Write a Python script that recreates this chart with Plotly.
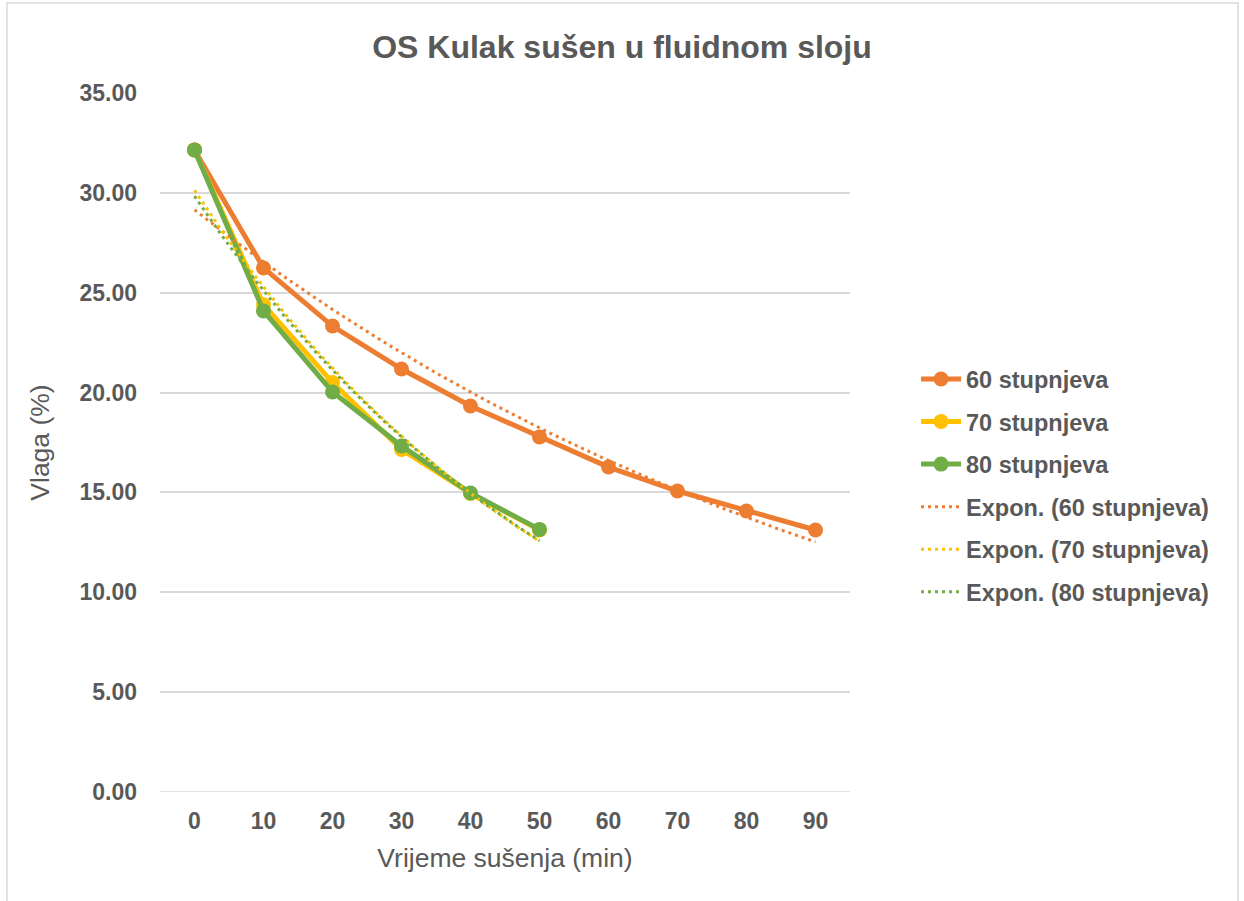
import numpy as np
import plotly.graph_objects as go

# ---- data ----
time_min = [0, 10, 20, 30, 40, 50, 60, 70, 80, 90]
moisture_60 = [32.15, 26.24, 23.33, 21.18, 19.33, 17.78, 16.27, 15.07, 14.07, 13.12]
moisture_70 = [32.15, 24.40, 20.50, 17.15, 14.95, 13.12]
moisture_80 = [32.15, 24.09, 20.03, 17.33, 14.97, 13.15]
series_names = ["60 stupnjeva", "70 stupnjeva", "80 stupnjeva"]
colors = ["#ED7D31", "#FFC000", "#70AD47"]
y_ticks = [0, 5, 10, 15, 20, 25, 30, 35]

series = [moisture_60, moisture_70, moisture_80]

fig = go.Figure()

for i, (name, vals, col) in enumerate(zip(series_names, series, colors)):
    fig.add_trace(go.Scatter(
        x=time_min[:len(vals)], y=vals, name=f"<b>{name}</b>", mode="lines+markers",
        line=dict(color=col, width=5),
        marker=dict(color=col, size=15),
        legendgroup=f"g{i}", legendrank=i + 1,
    ))

# exponential trendlines (least-squares fit of ln(y), like Excel)
for i, (name, vals, col) in enumerate(zip(series_names, series, colors)):
    xs = np.array(time_min[:len(vals)], dtype=float)
    b, a = np.polyfit(xs, np.log(vals), 1)
    xd = np.linspace(xs[0], xs[-1], 120)
    fig.add_trace(go.Scatter(
        x=xd, y=np.exp(a + b * xd), name=f"<b>Expon. ({name})</b>", mode="lines",
        line=dict(color=col, width=3, dash="3px,4px"),
        legendgroup=f"t{i}", legendrank=4 + i, hoverinfo="skip",
    ))

fig.update_layout(
    width=1244, height=901,
    paper_bgcolor="white", plot_bgcolor="white",
    margin=dict(l=160, r=394, t=93, b=109),
    font=dict(family="Liberation Sans, Arial, sans-serif", color="#595959"),
    title=dict(text="<b>OS Kulak sušen u fluidnom sloju</b>", x=0.5, xanchor="center",
               y=1 - 47 / 901, yanchor="middle", font=dict(size=32, color="#595959")),
    xaxis=dict(range=[-5, 95], tickvals=time_min, ticktext=[f"<b>{t}</b>" for t in time_min],
               tickfont=dict(size=23), showgrid=False, zeroline=False, showline=False,
               ticks="", ticklabelstandoff=13,
               title=dict(text="Vrijeme sušenja (min)", font=dict(size=26.5), standoff=15)),
    yaxis=dict(range=[0, 35], tickvals=y_ticks, ticktext=[f"<b>{v:.2f}</b>" for v in y_ticks],
               tickfont=dict(size=23), showgrid=True, gridcolor="#D9D9D9", gridwidth=1.5,
               zeroline=False, showline=False, ticks="", ticklabelstandoff=22,
               title=dict(text="Vlaga (%)", font=dict(size=26.5), standoff=22)),
    legend=dict(x=1.0957, xanchor="left", y=0.622, yanchor="top",
                font=dict(size=23.5), tracegroupgap=9, bgcolor="rgba(0,0,0,0)",
                itemwidth=40),
    showlegend=True,
    shapes=[dict(type="rect", xref="paper", yref="paper",
                 x0=(7 - 160) / 690, x1=(1238 - 160) / 690,
                 y0=(792 - 910) / 699, y1=(792 - 3) / 699,
                 line=dict(color="#D9D9D9", width=1.5), fillcolor="rgba(0,0,0,0)", layer="below")],
)
# bottom axis line at 0
fig.add_shape(type="line", xref="paper", yref="y", x0=0, x1=1, y0=0, y1=0,
              line=dict(color="#D9D9D9", width=1.5), layer="below")

fig.write_html("out.html", config={"displayModeBar": False},
               post_script="document.body.style.margin='0';")
